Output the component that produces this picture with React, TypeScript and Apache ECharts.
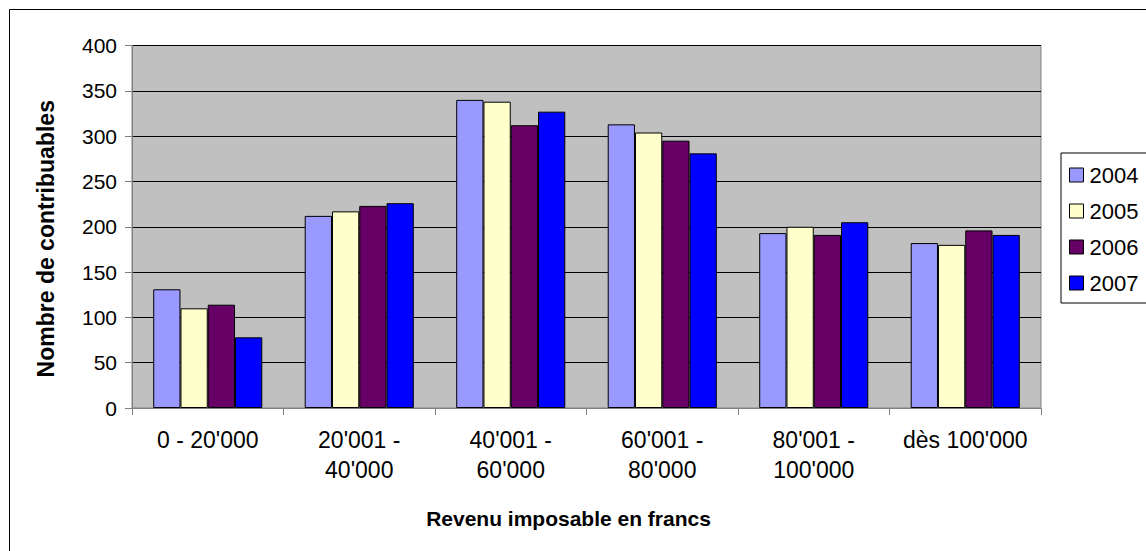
import React, { useEffect, useRef } from "react";
import * as echarts from "echarts";

const categories = ["0 - 20'000", "20'001 -\n40'000", "40'001 -\n60'000", "60'001 -\n80'000", "80'001 -\n100'000", "dès 100'000"];
const years = ["2004", "2005", "2006", "2007"];
const values2004 = [131, 212, 340, 313, 193, 182];
const values2005 = [110, 217, 338, 304, 200, 180];
const values2006 = [114, 223, 312, 295, 191, 196];
const values2007 = [78, 226, 327, 281, 205, 191];
const seriesValues = [values2004, values2005, values2006, values2007];
const colors = ["#9999FF", "#FFFFCC", "#660066", "#0000FF"];
const yTicks = { min: 0, max: 400, interval: 50 };

const FONT = "'Liberation Sans', Arial, sans-serif";

export default function App() {
  const ref = useRef<HTMLDivElement>(null);
  useEffect(() => {
    if (!ref.current) return;
    const chart = echarts.init(ref.current, null, { renderer: "svg" });
    chart.setOption({
      animation: false,
      textStyle: { fontFamily: FONT },
      graphic: [
        {
          type: "rect",
          shape: { x: 9.5, y: 9.5, width: 2000, height: 2000 },
          style: { fill: "none", stroke: "#000", lineWidth: 1 },
          z: -10,
        },
      ],
      grid: {
        left: 132,
        top: 45.5,
        right: 105,
        bottom: 143,
        show: true,
        backgroundColor: "#C0C0C0",
        borderColor: "#808080",
        borderWidth: 1,
      },
      legend: {
        orient: "vertical",
        left: 1061,
        top: 153,
        padding: [11, 40, 9, 8],
        itemWidth: 14,
        itemHeight: 14,
        itemGap: 14,
        borderColor: "#000",
        borderWidth: 1,
        backgroundColor: "#fff",
        icon: "rect",
        itemStyle: { borderColor: "#000", borderWidth: 1 },
        textStyle: { fontSize: 22, color: "#000", fontFamily: FONT, padding: [0, 0, 0, 1] },
        data: years,
      },
      xAxis: {
        type: "category",
        data: categories,
        name: "Revenu imposable en francs",
        nameLocation: "middle",
        nameGap: 100,
        nameTextStyle: {
          fontSize: 21,
          fontWeight: "bold",
          color: "#000",
          fontFamily: FONT,
          verticalAlign: "top",
          padding: [0, 36, 0, 0],
        },
        axisLine: { lineStyle: { color: "#808080", width: 1 } },
        axisTick: { show: true, length: 7, alignWithLabel: false, lineStyle: { color: "#808080" } },
        axisLabel: { fontSize: 23, color: "#000", margin: 17, lineHeight: 30, interval: 0, fontFamily: FONT },
      },
      yAxis: {
        type: "value",
        min: yTicks.min,
        max: yTicks.max,
        interval: yTicks.interval,
        name: "Nombre de contribuables",
        nameLocation: "middle",
        nameGap: 75,
        nameTextStyle: {
          fontSize: 23,
          fontWeight: "bold",
          color: "#000",
          fontFamily: FONT,
          padding: [0, 24, 0, 0],
        },
        axisLine: { show: true, lineStyle: { color: "#808080", width: 1 } },
        axisTick: { show: true, length: 7, lineStyle: { color: "#808080" } },
        axisLabel: { fontSize: 21, color: "#000", margin: 15, fontFamily: FONT },
        splitLine: { show: true, lineStyle: { color: "#000", width: 1 } },
      },
      series: years.map((y, i) => ({
        name: y,
        type: "bar",
        data: seriesValues[i],
        barGap: "0%",
        barCategoryGap: "28%",
        itemStyle: { color: colors[i], borderColor: "#000", borderWidth: 1 },
      })),
    });
    return () => chart.dispose();
  }, []);
  return <div ref={ref} style={{ position: "absolute", left: 0, top: 0, width: 1146, height: 551 }} />;
}
